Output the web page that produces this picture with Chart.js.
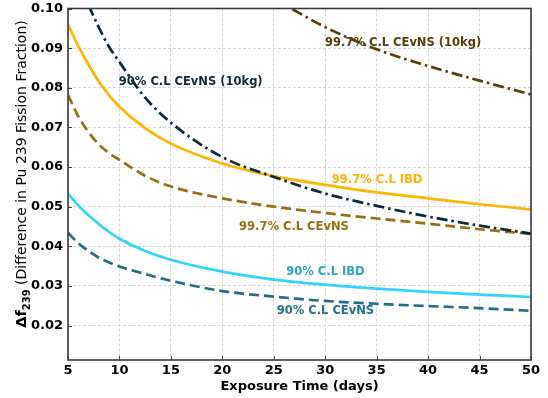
<!DOCTYPE html>
<html>
<head>
<meta charset="utf-8">
<script src="https://cdn.jsdelivr.net/npm/chart.js@4.4.1/dist/chart.umd.min.js"></script>
<style>
  html, body { margin: 0; padding: 0; background: #fff; }
  #wrap { width: 548px; height: 398px; }
</style>
</head>
<body>
<div id="wrap"><canvas id="fissionChart" width="548" height="398"></canvas></div>
<script>
const days = [5, 6, 7, 8, 9, 10, 12.5, 15, 20, 25, 30, 35, 40, 45, 50];

// delta f239 for each confidence level / detector
const ibd997 = [0.0960, 0.0905, 0.0858, 0.0815, 0.0781, 0.0752, 0.0698, 0.0659, 0.0609, 0.0577, 0.0555, 0.0536, 0.0521, 0.0506, 0.0493];
const cevns997 = [0.0782, 0.0728, 0.0688, 0.0657, 0.0635, 0.0618, 0.0578, 0.0551, 0.0521, 0.0500, 0.0484, 0.0470, 0.0457, 0.0443, 0.0431];
const ibd90 = [0.0533, 0.0503, 0.0478, 0.0456, 0.0436, 0.0419, 0.0388, 0.0366, 0.0336, 0.0316, 0.0303, 0.0293, 0.0285, 0.0278, 0.0272];
const cevns90 = [0.0434, 0.0408, 0.0388, 0.0371, 0.0359, 0.0349, 0.0330, 0.0313, 0.0287, 0.0273, 0.0262, 0.0255, 0.0249, 0.0244, 0.0237];
const cevns90Big = [null, null, 0.1008, 0.0952, 0.0903, 0.0865, 0.0775, 0.0712, 0.0625, 0.0575, 0.0533, 0.0502, 0.0475, 0.0452, 0.0432];
const cevns997Big = [null, null, null, null, null, null, null, null, null, 0.1025, 0.0953, 0.0897, 0.0855, 0.0818, 0.0783];

const xTicks = [5, 10, 15, 20, 25, 30, 35, 40, 45, 50];
const yTicks = [0.02, 0.03, 0.04, 0.05, 0.06, 0.07, 0.08, 0.09, 0.10];

// text placed next to each curve (data coordinates)
const curveLabels = [
  { text: '90% C.L CEvNS (10kg)', x: 16.93, y: 0.0815, color: '#0b2a3b' },
  { text: '99.7% C.L CEvNS (10kg)', x: 37.57, y: 0.0914, color: '#5a3c08' },
  { text: '99.7% C.L IBD', x: 35.04, y: 0.0567, color: '#ffb000' },
  { text: '99.7% C.L CEvNS', x: 26.96, y: 0.0448, color: '#9a6e10' },
  { text: '90% C.L IBD', x: 30.02, y: 0.0336, color: '#2aa3c6' },
  { text: '90% C.L CEvNS', x: 30.02, y: 0.0236, color: '#1f6f88' }
];

const FONT = '"DejaVu Sans", "Liberation Sans", sans-serif';
const DASHED = [10, 5];
const DASHDOT = [11, 4, 2.5, 4];

function series(values, color, dash) {
  return {
    data: days.map((d, i) => ({ x: d, y: values[i] })),
    borderColor: color,
    borderWidth: 2.7,
    borderDash: dash || [],
    borderCapStyle: 'butt',
    pointRadius: 0,
    fill: false,
    cubicInterpolationMode: 'monotone'
  };
}

const extras = {
  id: 'extras',
  afterDraw(chart) {
    const { ctx, chartArea: a, scales: { x, y } } = chart;
    ctx.save();

    // small inward ticks
    ctx.strokeStyle = '#444';
    ctx.lineWidth = 1;
    xTicks.forEach(v => {
      const px = Math.round(x.getPixelForValue(v)) + 0.5;
      ctx.beginPath(); ctx.moveTo(px, a.bottom); ctx.lineTo(px, a.bottom - 4); ctx.stroke();
    });
    yTicks.forEach(v => {
      const py = Math.round(y.getPixelForValue(v)) + 0.5;
      ctx.beginPath(); ctx.moveTo(a.left, py); ctx.lineTo(a.left + 4, py); ctx.stroke();
    });

    // frame
    ctx.strokeStyle = '#3a3a3a';
    ctx.lineWidth = 1.6;
    ctx.strokeRect(a.left, a.top, a.right - a.left, a.bottom - a.top);

    // curve labels
    ctx.font = 'bold 11.5px ' + FONT;
    ctx.textAlign = 'center';
    ctx.textBaseline = 'middle';
    curveLabels.forEach(l => {
      ctx.fillStyle = l.color;
      ctx.fillText(l.text, x.getPixelForValue(l.x), y.getPixelForValue(l.y));
    });

    // y axis title with bold delta-f and subscript
    const p1 = '\u0394f', p2 = '239', p3 = ' (Difference in Pu 239 Fission Fraction)';
    const f1 = 'bold 14.5px ' + FONT, f2 = 'bold 10px ' + FONT, f3 = '14px ' + FONT;
    ctx.font = f1; const w1 = ctx.measureText(p1).width;
    ctx.font = f2; const w2 = ctx.measureText(p2).width;
    ctx.font = f3; const w3 = ctx.measureText(p3).width;
    ctx.translate(21, 174);
    ctx.rotate(-Math.PI / 2);
    ctx.fillStyle = '#000';
    ctx.textAlign = 'left';
    ctx.textBaseline = 'alphabetic';
    let cx = -(w1 + w2 + w3) / 2;
    ctx.font = f1; ctx.fillText(p1, cx, 5); cx += w1;
    ctx.font = f2; ctx.fillText(p2, cx, 8.5); cx += w2;
    ctx.font = f3; ctx.fillText(p3, cx, 5);

    ctx.restore();
  }
};

new Chart(document.getElementById('fissionChart'), {
  type: 'line',
  data: {
    datasets: [
      series(cevns997Big, '#5a3c08', DASHDOT),
      series(cevns90Big, '#0b2a3b', DASHDOT),
      series(ibd997, '#ffb400'),
      series(cevns997, '#9a6e10', DASHED),
      series(ibd90, '#33d3ff'),
      series(cevns90, '#1f6f88', DASHED)
    ]
  },
  options: {
    responsive: false,
    animation: false,
    layout: { padding: { top: 8.5, right: 17, left: 0, bottom: 0 } },
    plugins: { legend: { display: false }, tooltip: { enabled: false } },
    scales: {
      x: {
        type: 'linear',
        min: 5,
        max: 50,
        afterBuildTicks: s => { s.ticks = xTicks.map(v => ({ value: v })); },
        afterFit: s => { s.height = 38; },
        ticks: {
          font: { family: FONT, size: 13, weight: 'bold' },
          color: '#000',
          padding: 3,
          maxRotation: 0,
          autoSkip: false,
          callback: v => String(v)
        },
        grid: { color: '#cccccc', lineWidth: 0.8, drawTicks: false },
        border: { display: false, dash: [3, 2] },
        title: {
          display: true,
          text: 'Exposure Time (days)',
          font: { family: FONT, size: 13, weight: 'bold' },
          color: '#000',
          padding: { top: 0, bottom: 4 }
        }
      },
      y: {
        type: 'linear',
        min: 0.0113,
        max: 0.10,
        afterBuildTicks: s => { s.ticks = yTicks.map(v => ({ value: v })); },
        afterFit: s => { s.width = 68; s.paddingTop = 0; s.paddingBottom = 0; },
        ticks: {
          font: { family: FONT, size: 13, weight: 'bold' },
          color: '#000',
          padding: 5,
          autoSkip: false,
          callback: v => v.toFixed(2)
        },
        grid: { color: '#cccccc', lineWidth: 0.8, drawTicks: false },
        border: { display: false, dash: [3, 2] }
      }
    }
  },
  plugins: [extras]
});
</script>
</body>
</html>
